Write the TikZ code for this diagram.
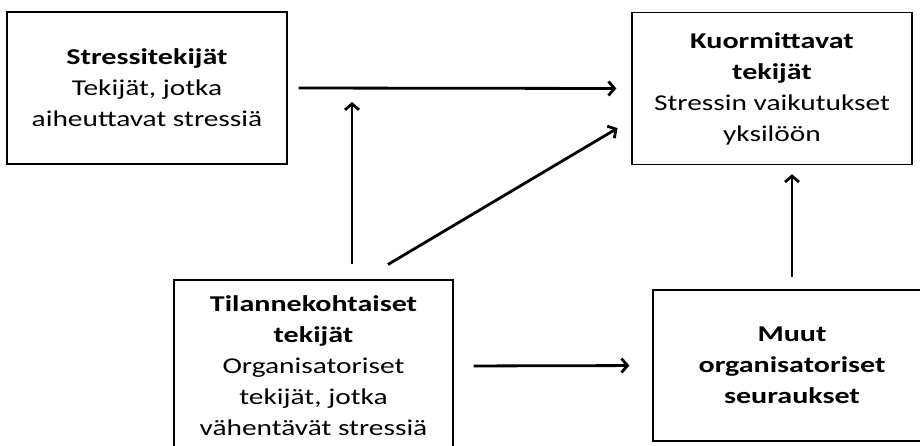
\documentclass[tikz,border=0pt]{standalone}
\usepackage{fontspec}
\setmainfont{Carlito}[FakeStretch=1.3, BoldFeatures={FakeStretch=1.33}]
\usetikzlibrary{arrows.meta}

\begin{document}
\begin{tikzpicture}[
  x=1pt, y=-1pt,
  box/.style = {draw, line width=1.4pt, align=center, inner sep=0pt,
                minimum width=280pt, minimum height=152pt,
                font=\fontsize{22.6}{31}\selectfont},
  link/.style = {line width=2.8pt, -{Straight Barb[length=6pt,width=14pt]}}
]
\fill[white] (0,0) rectangle (920,445);
\useasboundingbox (0,0) rectangle (920,445);

\node[box] (stress) at (147,88) {\textbf{Stressitekijät}\\Tekijät, jotka\\aiheuttavat stressiä};
\node[box] (load) at (772,88.5) {\textbf{Kuormittavat}\\\textbf{tekijät}\\Stressin vaikutukset\\yksilöön};
\node[box, minimum width=279pt, minimum height=172pt] (situ) at (313.5,366)
  {\textbf{Tilannekohtaiset}\\\textbf{tekijät}\\Organisatoriset\\tekijät, jotka\\vähentävät stressiä};
\node[box, minimum width=278pt, minimum height=151pt] (other) at (792,365.5)
  {\textbf{Muut}\\\textbf{organisatoriset}\\\textbf{seuraukset}};

\coordinate (join) at (352,87);

\draw[link, shorten <=11pt, shorten >=15pt] (stress.east) -- (load.west);
\draw[link, shorten <=15pt, shorten >=15pt] (situ.north -| join) -- (join);
\draw[link, shorten <=29pt, shorten >=16pt] ([xshift=49.5pt]situ.north) -- ([yshift=-31.5pt]load.west);
\draw[link, shorten <=20pt, shorten >=23pt] (situ.east) -- (other.west);
\draw[link, shorten <=12pt, shorten >=9pt] (other.north) -- (other.north |- load.south);
\end{tikzpicture}
\end{document}
